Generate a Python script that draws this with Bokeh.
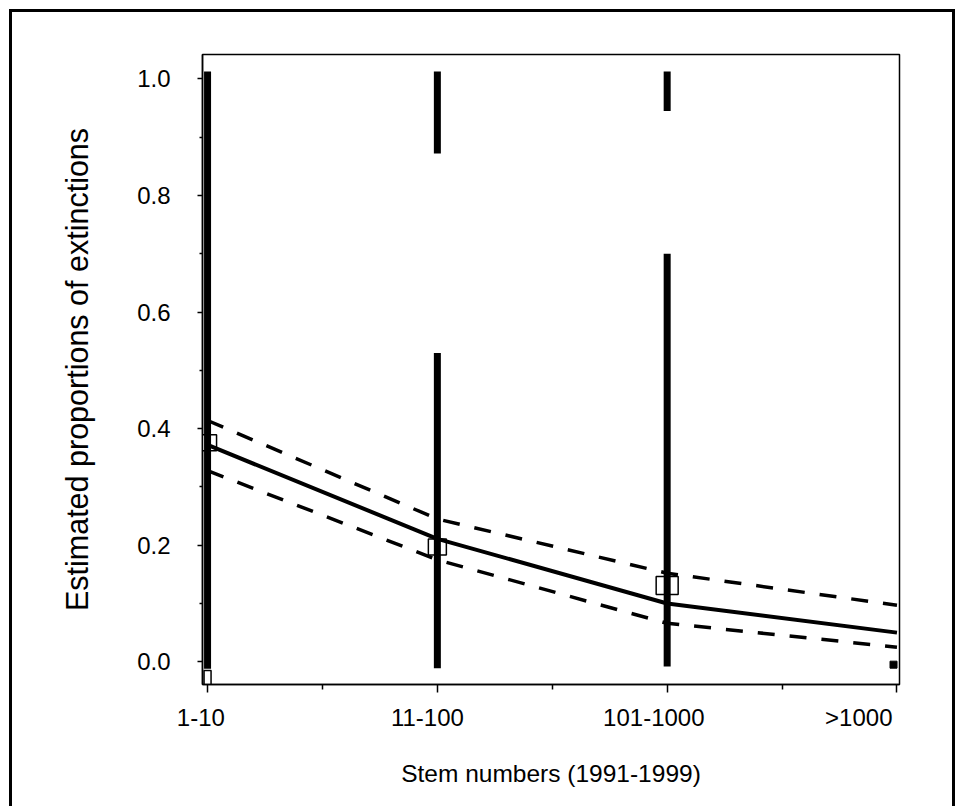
from bokeh.plotting import figure
from bokeh.models import Range1d, FixedTicker
from bokeh.embed import file_html
from bokeh.resources import INLINE

# ---- data ----
categories = ["1-10", "11-100", "101-1000", ">1000"]
cat_pos = [0, 1, 2, 3]
fitted = [0.372, 0.211, 0.100, 0.050]
upper_ci = [0.414, 0.245, 0.152, 0.097]
lower_ci = [0.328, 0.175, 0.066, 0.025]

# raw observations drawn as thick vertical bars
bar_x = [0, 1, 1, 2, 2]
bar_bottom = [-0.012, -0.011, 0.872, -0.008, 0.945]
bar_top = [1.013, 0.530, 1.013, 0.700, 1.013]

# observed proportion boxes (open)
box_x = [0, 0, 1, 2]
box_y = [0.376, -0.027, 0.197, 0.131]
box_w = [18, 7, 18, 22]
box_h = [16, 14, 16, 18]

# filled square at >1000
fill_x = [2.985]
fill_y = [-0.005]

y_major = [0.0, 0.2, 0.4, 0.6, 0.8, 1.0]
y_minor = [0.1, 0.3, 0.5, 0.7, 0.9]
x_minor = [0.5, 1.5, 2.5]

# category labels in the original sit a little left of their ticks
label_pad = [2, 3, 4, 9]

FONT = "Liberation Sans"
Y0, Y1 = -0.039, 1.042

p = figure(width=946, height=797, output_backend="svg", toolbar_location=None,
           x_range=Range1d(-0.022, 3.011), y_range=Range1d(Y0, Y1),
           min_border_left=190, min_border_right=59, min_border_top=42,
           min_border_bottom=125)
p.styles = {"border-top": "3px solid black", "border-left": "3px solid black",
            "border-right": "3px solid black", "margin-left": "9px",
            "margin-top": "9px"}
p.grid.visible = False
p.outline_line_color = "black"
p.outline_line_width = 1.5
p.background_fill_color = "white"
p.border_fill_color = "white"

# boxes under bars
p.rect(x=box_x, y=box_y, width=box_w, height=box_h, width_units="screen",
       height_units="screen", fill_color="white", line_color="black", line_width=1.5)

p.segment(x0=bar_x, y0=bar_bottom, x1=bar_x, y1=bar_top, line_color="black",
          line_width=7, line_cap="butt")

p.scatter(x=fill_x, y=fill_y, marker="square", size=7, fill_color="black",
          line_color="black")

p.line(cat_pos, fitted, line_color="black", line_width=4)
p.line(cat_pos, upper_ci, line_color="black", line_width=3.5, line_dash="17 15")
p.line(cat_pos, lower_ci, line_color="black", line_width=3.5, line_dash="17 15")

# axes
xa = p.xaxis[0]
xa.ticker = FixedTicker(ticks=cat_pos, minor_ticks=x_minor)
xa.major_label_overrides = {i: c + "\u00a0" * n
                            for i, c, n in zip(cat_pos, categories, label_pad)}
ya = p.yaxis[0]
ya.ticker = FixedTicker(ticks=y_major, minor_ticks=y_minor)
ya.major_label_overrides = {v: f"{v:.1f}" for v in y_major}

for ax in (xa, ya):
    ax.axis_line_color = "black"
    ax.axis_line_width = 1.5
    ax.major_tick_line_color = "black"
    ax.minor_tick_line_color = "black"
    ax.major_tick_line_width = 1.5
    ax.minor_tick_line_width = 1.5
    ax.major_tick_in = 0
    ax.minor_tick_in = 0
    ax.major_label_text_font = FONT
    ax.major_label_text_font_size = "24px"
    ax.major_label_text_color = "black"
    ax.axis_label_text_font = FONT
    ax.axis_label_text_font_style = "normal"
    ax.axis_label_text_color = "black"

xa.major_tick_out = 8
xa.minor_tick_out = 5
xa.major_label_standoff = 11
xa.axis_label = "Stem numbers (1991-1999)"
xa.axis_label_text_font_size = "24.5px"
xa.axis_label_standoff = 26

ya.major_tick_out = 5
ya.minor_tick_out = 3
ya.major_label_standoff = 27
ya.axis_label = "Estimated proportions of extinctions"
ya.axis_label_text_font_size = "30.5px"
ya.axis_label_standoff = 40

open("out.html", "w").write(file_html(p, INLINE))
